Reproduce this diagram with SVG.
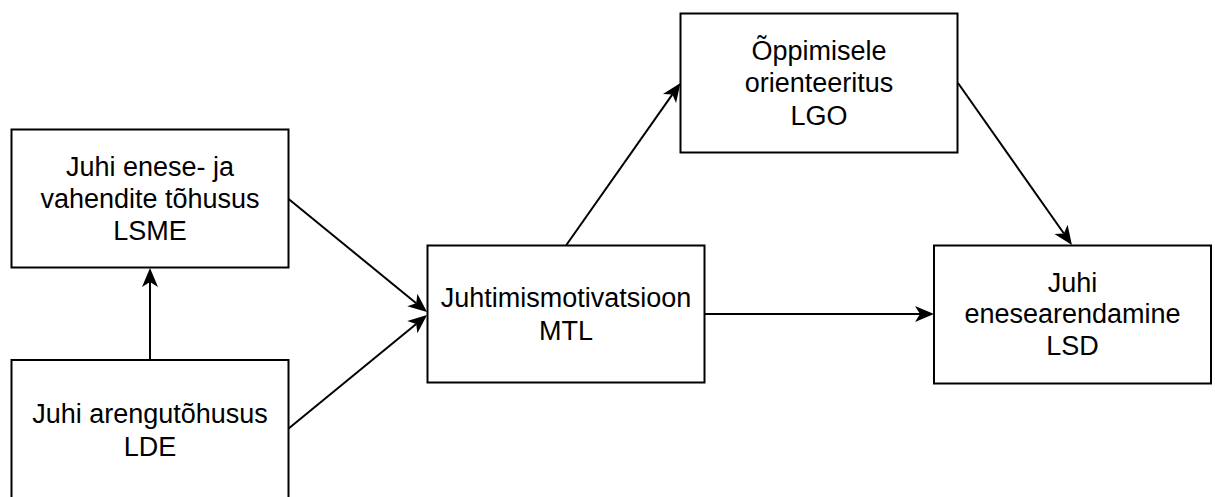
<svg xmlns="http://www.w3.org/2000/svg" width="1215" height="497" viewBox="0 0 1215 497">
  <style>
    .box { fill: #ffffff; stroke: #000000; stroke-width: 2; }
    .lbl { font-family: "Liberation Sans", Arial, sans-serif; font-size: 27px; fill: #000000; text-anchor: middle; }
    .edge { fill: none; stroke: #000000; stroke-width: 2; marker-end: url(#arrow); }
  </style>
  <defs>
    <marker id="arrow" markerUnits="userSpaceOnUse" viewBox="-6 -9 21 18" markerWidth="21" markerHeight="18" refX="0" refY="0" orient="auto">
      <path d="M14,0 L-5,-8 L0,0 L-5,8 Z" fill="#000000"/>
    </marker>
  </defs>
  <rect width="1215" height="497" fill="#ffffff"/>

  <g id="connectors">
    <line class="edge" x1="150" y1="360" x2="150" y2="282"/>
    <line class="edge" x1="288" y1="198.5" x2="416.2" y2="303.2"/>
    <line class="edge" x1="288" y1="429" x2="416.2" y2="323.9"/>
    <line class="edge" x1="566" y1="245.5" x2="672.4" y2="94.4"/>
    <line class="edge" x1="958" y1="83" x2="1063.9" y2="233.5"/>
    <line class="edge" x1="704" y1="314" x2="920" y2="314"/>
  </g>

  <g id="node-lsme">
    <rect class="box" x="11.5" y="129.5" width="277" height="138"/>
    <text class="lbl" x="150" y="176">Juhi enese- ja</text>
    <text class="lbl" x="150" y="208">vahendite tõhusus</text>
    <text class="lbl" x="150" y="240">LSME</text>
  </g>

  <g id="node-lde">
    <rect class="box" x="11.5" y="360" width="277" height="140"/>
    <text class="lbl" x="150" y="423">Juhi arengutõhusus</text>
    <text class="lbl" x="150" y="456">LDE</text>
  </g>

  <g id="node-mtl">
    <rect class="box" x="427.5" y="245.5" width="277" height="137"/>
    <text class="lbl" x="566" y="307">Juhtimismotivatsioon</text>
    <text class="lbl" x="566" y="340">MTL</text>
  </g>

  <g id="node-lgo">
    <rect class="box" x="680.5" y="13.5" width="277" height="139"/>
    <text class="lbl" x="819" y="60">Õppimisele</text>
    <text class="lbl" x="819" y="92">orienteeritus</text>
    <text class="lbl" x="819" y="125">LGO</text>
  </g>

  <g id="node-lsd">
    <rect class="box" x="934" y="245.5" width="277" height="138"/>
    <text class="lbl" x="1072.5" y="292">Juhi</text>
    <text class="lbl" x="1072.5" y="323">enesearendamine</text>
    <text class="lbl" x="1072.5" y="355">LSD</text>
  </g>
</svg>
